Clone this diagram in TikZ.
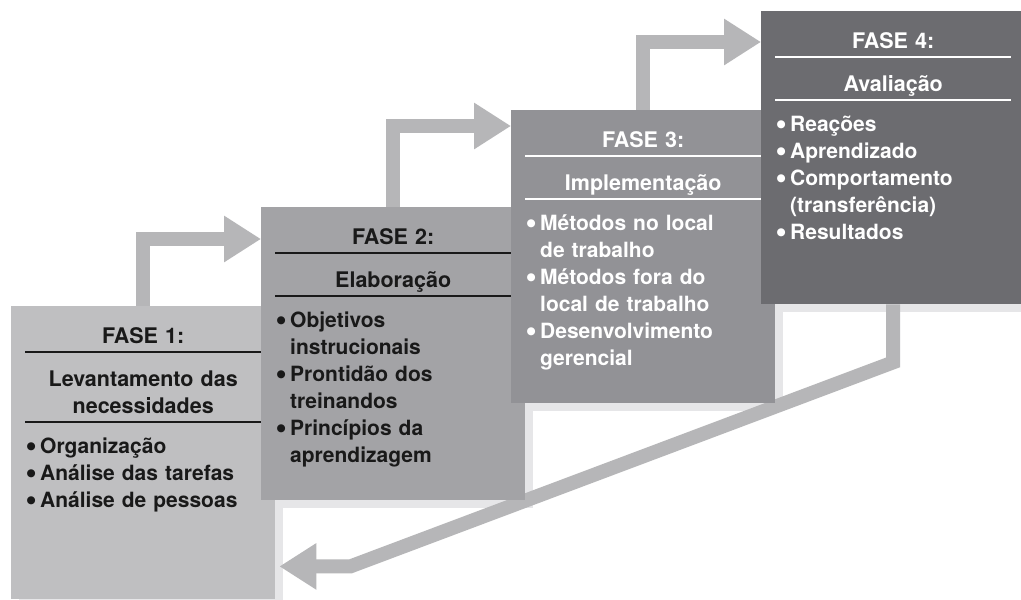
\documentclass[tikz,border=0pt]{standalone}
\usepackage{fontspec}
\setmainfont{TeX Gyre Heros}
\newfontfamily\dotfont{DejaVu Sans}
\usetikzlibrary{arrows.meta, positioning, calc, backgrounds}
\definecolor{fase1}{RGB}{191,191,193}
\definecolor{fase2}{RGB}{163,163,166}
\definecolor{fase3}{RGB}{146,146,150}
\definecolor{fase4}{RGB}{108,108,112}
\definecolor{flowgray}{RGB}{182,182,184}
\definecolor{shadowgray}{RGB}{230,230,232}
\definecolor{darktext}{RGB}{25,25,25}
\tikzset{
    phase/.style={
        rectangle,
        anchor=north west,
        inner sep=0pt,
        minimum width=264pt,
        minimum height=293pt
    },
    head/.style={
        anchor=base,
        text width=236pt,
        align=center,
        inner sep=0pt,
        font=\fontsize{21.5}{27}\selectfont\bfseries
    },
    items/.style={
        anchor=base west,
        text width=240pt,
        align=left,
        inner sep=0pt,
        font=\fontsize{21}{27}\selectfont\bfseries
    },
    rule/.style={
        line width=2pt
    },
    flow/.style={
        draw=flowgray,
        line width=14pt,
        -{Triangle[width=44pt,length=37pt]}
    },
    castshadow/.style={
        fill=shadowgray
    }
}
\newcommand{\itm}{\makebox[13pt][l]{\hspace*{-0.5pt}\raisebox{3.6pt}{\dotfont\fontsize{10.5}{12}\selectfont ●}}}
\newcommand{\cnt}{\hspace*{13pt}}

\begin{document}
\begin{tikzpicture}[x=1pt, y=1pt]
    \useasboundingbox (0,0) rectangle (1021,-600);

    % Fase 1
    \node (b1) [phase, fill=fase1] at (11,-306) {};
    \node (h1) [head, text=darktext] at ($(b1.north)+(0,-37)$) {FASE 1:};
    \draw [rule, draw=darktext] ($(b1.north west)+(14,-46)$) -- ($(b1.north east)+(-14,-46)$);
    \node (t1) [head, text=darktext] at ($(b1.north)+(0,-80)$) {Levantamento das\\necessidades};
    \draw [rule, draw=darktext] ($(b1.north west)+(14,-116)$) -- ($(b1.north east)+(-14,-116)$);
    \node (l1) [items, text=darktext] at ($(b1.north west)+(16,-147)$) {
        \itm Organização\\\itm Análise das tarefas\\\itm Análise de pessoas
    };

    % Fase 2
    \node (b2) [phase, fill=fase2] at (261,-207) {};
    \node (h2) [head, text=darktext] at ($(b2.north)+(0,-37)$) {FASE 2:};
    \draw [rule, draw=darktext] ($(b2.north west)+(14,-46)$) -- ($(b2.north east)+(-14,-46)$);
    \node (t2) [head, text=darktext] at ($(b2.north)+(0,-80)$) {Elaboração};
    \draw [rule, draw=darktext] ($(b2.north west)+(14,-89)$) -- ($(b2.north east)+(-14,-89)$);
    \node (l2) [items, text=darktext] at ($(b2.north west)+(16,-120)$) {
        \itm Objetivos\\\cnt instrucionais\\\itm Prontidão dos\\\cnt treinandos\\\itm Princípios da\\\cnt aprendizagem
    };

    % Fase 3
    \node (b3) [phase, fill=fase3] at (511,-110) {};
    \node (h3) [head, text=white] at ($(b3.north)+(0,-37)$) {FASE 3:};
    \draw [rule, draw=white] ($(b3.north west)+(14,-46)$) -- ($(b3.north east)+(-14,-46)$);
    \node (t3) [head, text=white] at ($(b3.north)+(0,-80)$) {Implementação};
    \draw [rule, draw=white] ($(b3.north west)+(14,-89)$) -- ($(b3.north east)+(-14,-89)$);
    \node (l3) [items, text=white] at ($(b3.north west)+(16,-120)$) {
        \itm Métodos no local\\\cnt de trabalho\\\itm Métodos fora do\\\cnt local de trabalho\\\itm Desenvolvimento\\\cnt gerencial
    };

    % Fase 4
    \node (b4) [phase, fill=fase4] at (761,-11) {};
    \node (h4) [head, text=white] at ($(b4.north)+(0,-37)$) {FASE 4:};
    \draw [rule, draw=white] ($(b4.north west)+(14,-46)$) -- ($(b4.north east)+(-14,-46)$);
    \node (t4) [head, text=white] at ($(b4.north)+(0,-80)$) {Avaliação};
    \draw [rule, draw=white] ($(b4.north west)+(14,-89)$) -- ($(b4.north east)+(-14,-89)$);
    \node (l4) [items, text=white] at ($(b4.north west)+(16,-120)$) {
        \itm Reações\\\itm Aprendizado\\\itm Comportamento\\\cnt (transferência)\\\itm Resultados
    };

    \begin{pgfonlayer}{background}
        \fill [white] (0,0) rectangle (1021,-600);
        % Shadows
        \foreach \b in {b1,b2,b3,b4}
            \fill [castshadow] ($(\b.north west)+(8,-8)$) rectangle ($(\b.south east)+(8,-8)$);
        % Connections
        \draw [flow] ($(b1.north west)+(132,0)$) |- ($(b2.north west)+(0,-32)$);
        \draw [flow] ($(b2.north west)+(132,0)$) |- ($(b3.north west)+(0,-16)$);
        \draw [flow] ($(b3.north west)+(132,0)$) |- ($(b4.north west)+(0,-31)$);
        \draw [flow] ($(b4.south west)+(132,0)$) -- ++(0,-58)
            -- ($(b1.south east)+(75,33)$) -- ($(b1.south east)+(4,33)$);
    \end{pgfonlayer}

\end{tikzpicture}
\end{document}
